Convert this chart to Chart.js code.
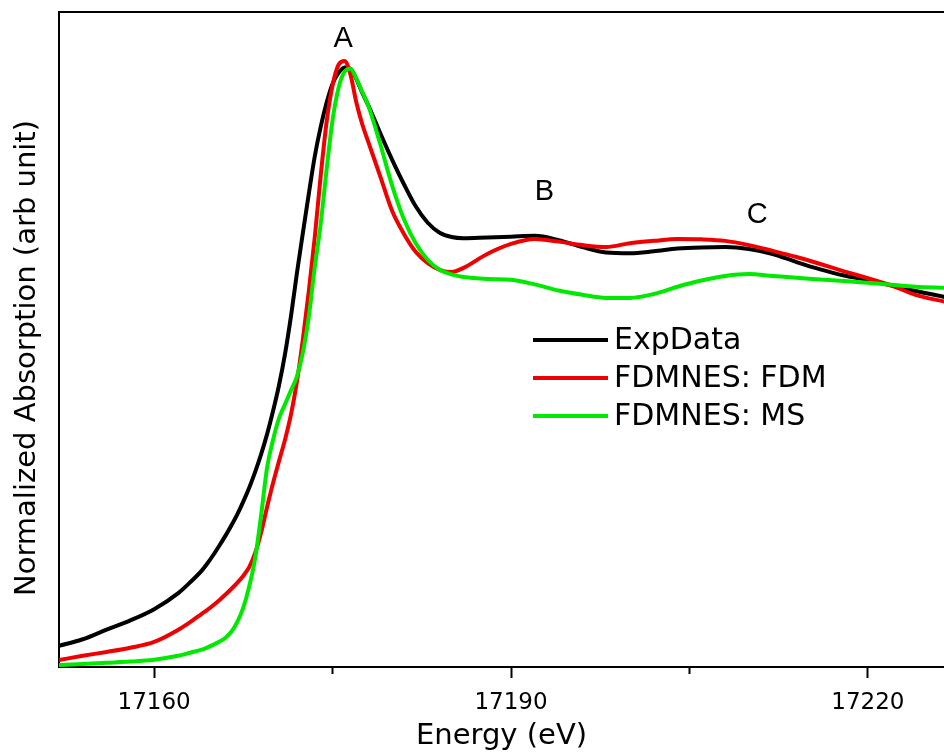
<!DOCTYPE html>
<html>
<head>
<meta charset="utf-8">
<script src="https://cdn.jsdelivr.net/npm/chart.js"></script>
<style>
  html, body { margin: 0; padding: 0; background: #fff; }
</style>
</head>
<body>
<canvas id="xanesChart" width="944" height="755"></canvas>
<script>
// Energia (eV) y absorcion normalizada
var energy = [17152, 17154, 17156, 17158, 17160, 17162, 17163,
  17164, 17164.5, 17165, 17165.5, 17166, 17166.5, 17167, 17167.5, 17168, 17168.5,
  17169, 17169.5, 17170, 17170.5, 17171, 17171.5, 17172, 17172.5, 17173, 17173.5,
  17174, 17174.5, 17175, 17175.5, 17176, 17176.5, 17177, 17177.5, 17178,
  17179, 17180, 17181, 17182, 17183, 17184, 17185, 17186,
  17188, 17190, 17192, 17194, 17196, 17198, 17200, 17202, 17204, 17206,
  17208, 17210, 17212, 17214, 17216, 17218, 17220, 17222, 17224, 17226.5];
var expData = [0.055, 0.072, 0.097, 0.121, 0.150, 0.191, 0.219,
  0.250, 0.270, 0.292, 0.316, 0.341, 0.368, 0.397, 0.430, 0.466, 0.507,
  0.553, 0.605, 0.665, 0.732, 0.812, 0.910, 1.022, 1.126, 1.228, 1.325,
  1.402, 1.465, 1.514, 1.542, 1.556, 1.553, 1.526, 1.490, 1.458,
  1.386, 1.317, 1.253, 1.195, 1.153, 1.127, 1.116, 1.113,
  1.115, 1.117, 1.119, 1.108, 1.090, 1.076, 1.074, 1.079, 1.086, 1.089,
  1.090, 1.085, 1.072, 1.051, 1.032, 1.016, 1.004, 0.990, 0.976, 0.960];
var fdmData = [0.018, 0.029, 0.039, 0.050, 0.065, 0.096, 0.116,
  0.138, 0.149, 0.161, 0.174, 0.188, 0.203, 0.219, 0.237, 0.260, 0.297,
  0.350, 0.416, 0.478, 0.535, 0.590, 0.655, 0.740, 0.850, 0.975, 1.115,
  1.275, 1.415, 1.510, 1.563, 1.573, 1.538, 1.465, 1.408, 1.363,
  1.274, 1.184, 1.124, 1.077, 1.048, 1.031, 1.025, 1.036,
  1.072, 1.098, 1.111, 1.104, 1.095, 1.090, 1.100, 1.106, 1.111, 1.110,
  1.106, 1.095, 1.080, 1.064, 1.046, 1.027, 1.009, 0.990, 0.966, 0.948];
var msData = [0.005, 0.008, 0.011, 0.014, 0.019, 0.029, 0.037,
  0.045, 0.051, 0.058, 0.066, 0.076, 0.092, 0.118, 0.155, 0.210, 0.284,
  0.396, 0.519, 0.590, 0.646, 0.682, 0.718, 0.754, 0.816, 0.909, 1.037,
  1.150, 1.292, 1.420, 1.503, 1.545, 1.553, 1.527, 1.492, 1.457,
  1.358, 1.250, 1.162, 1.099, 1.057, 1.031, 1.019, 1.012,
  1.007, 1.005, 0.993, 0.977, 0.966, 0.958, 0.958, 0.968, 0.987, 1.003,
  1.015, 1.020, 1.015, 1.010, 1.006, 1.002, 0.997, 0.992, 0.987, 0.984];

var seriesNames = ['ExpData', 'FDMNES: FDM', 'FDMNES: MS'];
var seriesColors = ['#000000', '#f00000', '#00ea00'];
var xTicks = [17160, 17175, 17190, 17205, 17220];
var yTitle = 'Normalized Absorption (arb unit)';

// Etiquetas de los picos
var peakNames = ['A', 'B', 'C'];
var peakEnergy = [17175.9, 17192.8, 17210.7];
var peakHeight = [1.630, 1.233, 1.173];

function toPoints(values) {
  return energy.map(function(e, i) { return { x: e, y: values[i] }; });
}

var fontName = "'DejaVu Sans', sans-serif";

// Titulo del eje Y, etiquetas A, B, C y la leyenda dentro del grafico
var extrasPlugin = {
  id: 'extras',
  afterDatasetsDraw: function(chart) {
    var ctx = chart.ctx;
    var xs = chart.scales.x, ys = chart.scales.y;
    ctx.save();
    ctx.fillStyle = '#000';
    ctx.textBaseline = 'middle';
    ctx.textAlign = 'center';

    ctx.save();
    ctx.translate(27, 358);
    ctx.rotate(-Math.PI / 2);
    ctx.font = '29px ' + fontName;
    ctx.fillText(yTitle, 0, 0);
    ctx.restore();

    ctx.font = "29px 'Liberation Sans', Arial, sans-serif";
    for (var i = 0; i < peakNames.length; i++) {
      ctx.fillText(peakNames[i], xs.getPixelForValue(peakEnergy[i]), ys.getPixelForValue(peakHeight[i]));
    }

    ctx.font = '30px ' + fontName;
    ctx.textAlign = 'left';
    chart.data.datasets.forEach(function(ds, k) {
      var y = 340 + k * 38;
      ctx.strokeStyle = ds.borderColor;
      ctx.lineWidth = 4;
      ctx.beginPath();
      ctx.moveTo(533, y);
      ctx.lineTo(608, y);
      ctx.stroke();
      ctx.fillStyle = '#000';
      ctx.fillText(ds.label, 614, y + 1);
    });
    ctx.restore();
  }
};

var ctx = document.getElementById('xanesChart').getContext('2d');
var myChart = new Chart(ctx, {
  type: 'line',
  data: {
    datasets: [
      { label: seriesNames[0], data: toPoints(expData), borderColor: seriesColors[0], order: 3 },
      { label: seriesNames[1], data: toPoints(fdmData), borderColor: seriesColors[1], order: 2 },
      { label: seriesNames[2], data: toPoints(msData), borderColor: seriesColors[2], order: 1 }
    ]
  },
  options: {
    responsive: false,
    animation: false,
    devicePixelRatio: 1,
    layout: { padding: 0 },
    elements: {
      point: { radius: 0 },
      line: { borderWidth: 4, cubicInterpolationMode: 'monotone', fill: false }
    },
    plugins: {
      legend: { display: false },
      tooltip: { enabled: false }
    },
    scales: {
      x: {
        type: 'linear',
        position: 'bottom',
        min: 17152,
        max: 17226.4,
        afterBuildTicks: function(scale) {
          scale.ticks = xTicks.map(function(v) { return { value: v }; });
        },
        afterFit: function(scale) { scale.height = 88; },
        ticks: {
          autoSkip: false,
          maxRotation: 0,
          padding: 11,
          color: '#000',
          font: { family: fontName, size: 23 },
          callback: function(v) { return v % 30 === 0 ? String(v) : ''; }
        },
        grid: {
          display: true,
          drawOnChartArea: false,
          drawTicks: true,
          tickLength: 11,
          tickWidth: 2,
          tickColor: '#000',
          tickBorderDash: function(c) {
            return c.tick && c.tick.value % 30 !== 0 ? [6, 40] : [];
          }
        },
        border: { display: true, color: '#000', width: 2 },
        title: {
          display: true,
          text: 'Energy (eV)',
          color: '#000',
          font: { family: fontName, size: 29 },
          padding: { top: 0, bottom: 1 }
        }
      },
      xTop: {
        type: 'linear',
        position: 'top',
        min: 17152,
        max: 17226.4,
        afterFit: function(scale) { scale.height = 12; },
        ticks: { display: false },
        grid: { display: false },
        border: { display: true, color: '#000', width: 2 }
      },
      y: {
        min: 0,
        max: 1.7,
        afterFit: function(scale) { scale.width = 59; },
        ticks: { display: false },
        grid: { display: false },
        border: { display: true, color: '#000', width: 2 },
        title: { display: false }
      }
    }
  },
  plugins: [extrasPlugin]
});
</script>
</body>
</html>
